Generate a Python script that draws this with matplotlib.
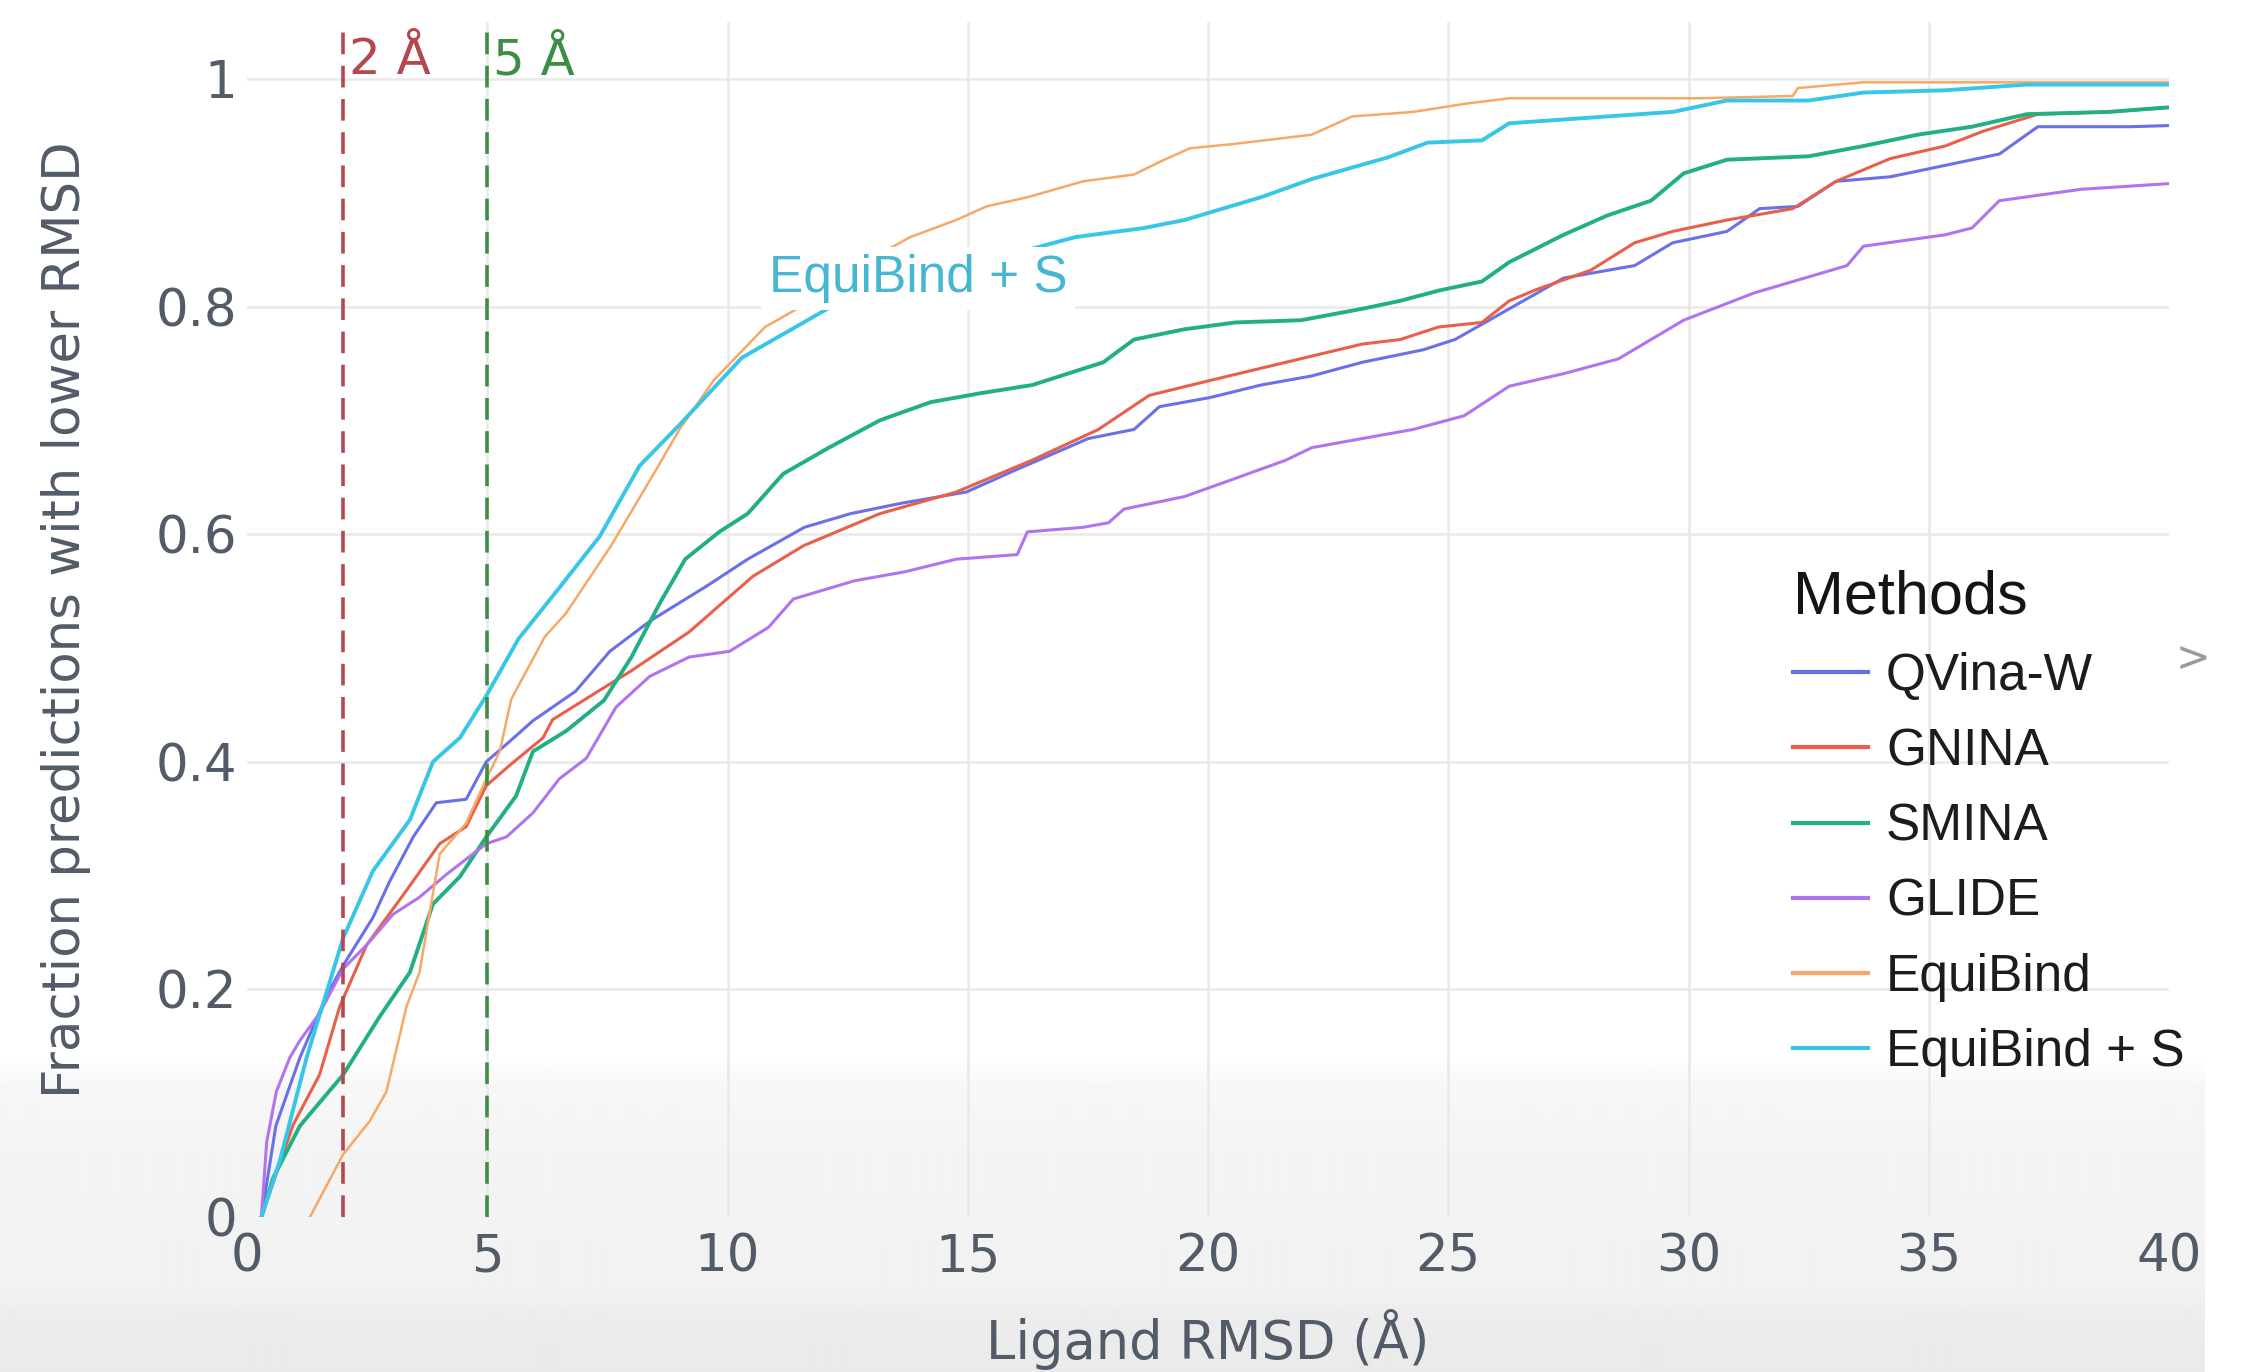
import matplotlib
matplotlib.use("Agg")
import matplotlib.pyplot as plt
import numpy as np

# Cumulative fraction of predictions under a given ligand RMSD
methods = ["QVina-W", "GNINA", "SMINA", "GLIDE", "EquiBind", "EquiBind + S"]

qvina_x = [0.3, 0.6, 1.1, 1.65, 2.0, 2.62, 2.97, 3.46, 3.94, 4.56, 4.98, 5.47, 5.95, 6.84, 7.55, 8.4,
           9.59, 10.42, 11.6, 12.56, 13.6, 14.97, 16.03, 17.51, 18.46, 18.99, 20.04, 21.1, 22.16, 23.21,
           24.48, 25.14, 26.27, 27.4, 28.88, 29.67, 30.8, 31.48, 32.28, 33.07, 34.2, 35.34, 36.47, 37.27,
           39.2, 40.0]
qvina_y = [0.0, 0.08, 0.14, 0.194, 0.221, 0.263, 0.295, 0.334, 0.364, 0.367, 0.4, 0.418, 0.436, 0.462,
           0.497, 0.524, 0.555, 0.578, 0.606, 0.618, 0.627, 0.637, 0.657, 0.684, 0.692, 0.712, 0.72, 0.731,
           0.739, 0.751, 0.762, 0.771, 0.798, 0.825, 0.836, 0.856, 0.866, 0.886, 0.888, 0.91, 0.914, 0.924,
           0.934, 0.958, 0.958, 0.959]

gnina_x = [0.3, 0.96, 1.51, 1.93, 2.49, 3.32, 4.01, 4.56, 4.98, 5.47, 6.16, 6.36, 7.31, 8.0, 9.2, 10.53,
           11.59, 13.17, 14.76, 16.34, 17.72, 18.78, 20.04, 21.62, 23.21, 24.0, 24.8, 25.7, 26.27, 26.84,
           27.97, 28.88, 29.67, 30.8, 32.17, 33.07, 34.2, 35.34, 36.13, 37.27, 38.74, 40.0]
gnina_y = [0.0, 0.081, 0.125, 0.185, 0.239, 0.287, 0.328, 0.343, 0.379, 0.397, 0.421, 0.437, 0.462, 0.48,
           0.514, 0.563, 0.59, 0.618, 0.637, 0.665, 0.692, 0.722, 0.735, 0.751, 0.767, 0.771, 0.782, 0.786,
           0.805, 0.815, 0.832, 0.856, 0.866, 0.876, 0.886, 0.91, 0.93, 0.941, 0.954, 0.969, 0.971, 0.975]

smina_x = [0.3, 0.54, 1.1, 2.0, 2.76, 3.39, 3.87, 4.43, 4.98, 5.6, 5.95, 6.64, 7.43, 8.0, 8.6, 9.12, 9.83,
           10.42, 11.16, 12.11, 13.17, 14.23, 15.29, 16.34, 17.82, 18.46, 19.51, 20.57, 21.94, 23.21, 24.0,
           24.8, 25.7, 26.27, 27.4, 28.31, 29.22, 29.9, 30.8, 32.5, 33.64, 34.77, 35.9, 37.04, 38.74, 40.0]
smina_y = [0.0, 0.034, 0.08, 0.125, 0.176, 0.215, 0.275, 0.299, 0.334, 0.37, 0.409, 0.427, 0.454, 0.492,
           0.54, 0.578, 0.602, 0.618, 0.653, 0.676, 0.7, 0.716, 0.724, 0.731, 0.751, 0.771, 0.78, 0.786,
           0.788, 0.798, 0.805, 0.814, 0.822, 0.839, 0.863, 0.88, 0.893, 0.917, 0.929, 0.932, 0.941, 0.951,
           0.958, 0.969, 0.971, 0.975]

glide_x = [0.3, 0.41, 0.61, 0.89, 1.1, 1.51, 2.0, 2.49, 3.04, 3.59, 4.15, 4.98, 5.4, 5.95, 6.5, 7.06,
           7.68, 8.38, 9.2, 10.04, 10.85, 11.37, 12.64, 13.7, 14.76, 16.03, 16.24, 17.4, 17.93, 18.25,
           19.51, 20.57, 21.62, 22.16, 23.21, 24.27, 25.33, 26.27, 27.4, 28.54, 29.9, 31.37, 33.3, 33.64,
           35.34, 35.9, 36.47, 38.17, 40.0]
glide_y = [0.0, 0.066, 0.11, 0.14, 0.155, 0.179, 0.218, 0.239, 0.266, 0.281, 0.301, 0.328, 0.334, 0.355,
           0.385, 0.403, 0.448, 0.475, 0.492, 0.497, 0.518, 0.543, 0.559, 0.567, 0.578, 0.582, 0.602, 0.606,
           0.61, 0.622, 0.633, 0.649, 0.665, 0.676, 0.684, 0.692, 0.704, 0.73, 0.741, 0.754, 0.788, 0.812,
           0.836, 0.853, 0.863, 0.869, 0.893, 0.903, 0.908]

equibind_x = [1.31, 2.0, 2.55, 2.9, 3.32, 3.59, 4.01, 4.56, 4.98, 5.26, 5.5, 6.2, 6.63, 7.58, 8.52, 9.0,
              9.71, 10.78, 11.49, 12.7, 13.8, 14.76, 15.39, 16.24, 17.4, 18.46, 18.99, 19.62, 20.57, 22.16,
              23.0, 24.27, 25.33, 26.27, 30.24, 32.17, 32.28, 33.64, 40.0]
equibind_y = [0.0, 0.055, 0.084, 0.11, 0.185, 0.215, 0.319, 0.346, 0.385, 0.409, 0.455, 0.51, 0.53, 0.59,
              0.657, 0.692, 0.735, 0.782, 0.799, 0.835, 0.861, 0.876, 0.888, 0.896, 0.91, 0.916, 0.927,
              0.939, 0.943, 0.951, 0.967, 0.971, 0.978, 0.983, 0.983, 0.985, 0.992, 0.997, 0.997]

equibind_s_x = [0.3, 0.68, 1.24, 2.0, 2.62, 3.39, 3.87, 4.43, 4.98, 5.65, 6.39, 7.34, 8.17, 9.0, 10.3,
                12.08, 14.5, 17.24, 18.67, 19.51, 21.1, 22.16, 23.74, 24.57, 25.7, 26.27, 27.97, 29.67,
                30.8, 32.5, 33.64, 35.34, 37.04, 40.0]
equibind_s_y = [0.0, 0.049, 0.14, 0.245, 0.304, 0.349, 0.4, 0.421, 0.458, 0.508, 0.547, 0.598, 0.66,
                0.696, 0.755, 0.798, 0.83, 0.861, 0.869, 0.876, 0.896, 0.912, 0.931, 0.944, 0.946, 0.961,
                0.966, 0.971, 0.981, 0.981, 0.988, 0.99, 0.995, 0.995]

xs = [qvina_x, gnina_x, smina_x, glide_x, equibind_x, equibind_s_x]
ys = [qvina_y, gnina_y, smina_y, glide_y, equibind_y, equibind_s_y]
colors = ["#6a70e8", "#e8604a", "#22b083", "#b074ee", "#f7a866", "#38c6e6"]
widths = [2.2, 2.2, 2.8, 2.2, 1.8, 2.8]

thresholds = [2, 5]
threshold_labels = ["2 Å", "5 Å"]
threshold_colors = ["#b5484e", "#3d8d45"]

x_ticks = [0, 5, 10, 15, 20, 25, 30, 35, 40]
y_ticks = [0, 0.2, 0.4, 0.6, 0.8, 1]
y_tick_labels = ["0", "0.2", "0.4", "0.6", "0.8", "1"]

W, H = 2255, 1372
fig = plt.figure(figsize=(W / 100, H / 100), dpi=100)
fig.patch.set_facecolor("white")

# light grey band at the bottom of the screenshot
bg = fig.add_axes([0, 0, 2205 / W, 1], zorder=-10)
rows = np.arange(H)
shade = np.interp(rows, [0, 1055, 1085, 1150, 1290, 1320, H], [255, 255, 247, 244, 241, 236, 234]) / 255
bg.imshow(np.repeat(shade[:, None], 2, axis=1), cmap="gray", vmin=0, vmax=1, aspect="auto",
          interpolation="bilinear")
bg.axis("off")

ax = fig.add_axes([247 / W, 1 - 1217 / H, 1922 / W, 1195 / H], zorder=1)
ax.set_facecolor("none")

for x, y, name, c, lw in zip(xs, ys, methods, colors, widths):
    ax.plot(x, y, color=c, lw=lw, label=name, zorder=3, solid_joinstyle="round")

for t, lab, c in zip(thresholds, threshold_labels, threshold_colors):
    ax.axvline(t, color=c, lw=2.6, dashes=(6.0, 3.2), zorder=5)
    ax.annotate(lab, xy=(t, 1.004), xytext=(4, 0), textcoords="offset points",
                ha="left", va="baseline", color=c, fontsize=36, family="DejaVu Sans")

# annotation box hides the two EquiBind curves underneath it
ax.text(13.98, 0.813, "EquiBind + S", ha="center", va="baseline", color="#47b6d2",
        fontsize=37, family="Liberation Sans", zorder=6,
        bbox=dict(boxstyle="square,pad=0.14", facecolor="white", edgecolor="none"))

ax.set_xlim(0, 40)
ax.set_ylim(0, 1.05)
ax.set_xticks(x_ticks)
ax.set_yticks(y_ticks)
ax.set_yticklabels(y_tick_labels)
ax.tick_params(length=0, labelsize=37, labelcolor="#535b69")
ax.tick_params(axis="x", pad=11)
ax.tick_params(axis="y", pad=7)
for s in ax.spines.values():
    s.set_visible(False)

ax.grid(True, color="#e9e9e9", lw=1.8, zorder=0)
ax.get_xgridlines()[0].set_visible(False)
ax.get_xgridlines()[-1].set_visible(False)
ax.get_ygridlines()[0].set_visible(False)

ax.set_xlabel("Ligand RMSD (Å)", fontsize=38, color="#535b69")
ax.xaxis.label.set_va("center")
ax.xaxis.set_label_coords(0.5, -(1340 - 1217) / 1195)
ax.set_ylabel("Fraction predictions with lower RMSD", fontsize=37, color="#535b69")
ax.yaxis.label.set_va("center")
ax.yaxis.set_label_coords(-(247 - 66) / 1922, 0.5)

leg = ax.legend(title="Methods", loc="upper left", bbox_to_anchor=(1793 / W, 1 - 569 / H),
                bbox_transform=fig.transFigure, frameon=False, borderpad=0, borderaxespad=0,
                prop={"family": "Liberation Sans", "size": 37},
                title_fontproperties={"family": "Liberation Sans", "size": 44},
                handlelength=1.45, handletextpad=0.36, labelspacing=0.51, alignment="left")
for line in leg.get_lines():
    line.set_linewidth(3)
for t in leg.get_texts():
    t.set_color("#1c1c1c")
leg.get_title().set_color("#141414")

fig.text(2193 / W, 1 - 659 / H, ">", ha="center", va="center", fontsize=30, color="#9a9a9a")

fig.savefig("out.png", dpi=100)
